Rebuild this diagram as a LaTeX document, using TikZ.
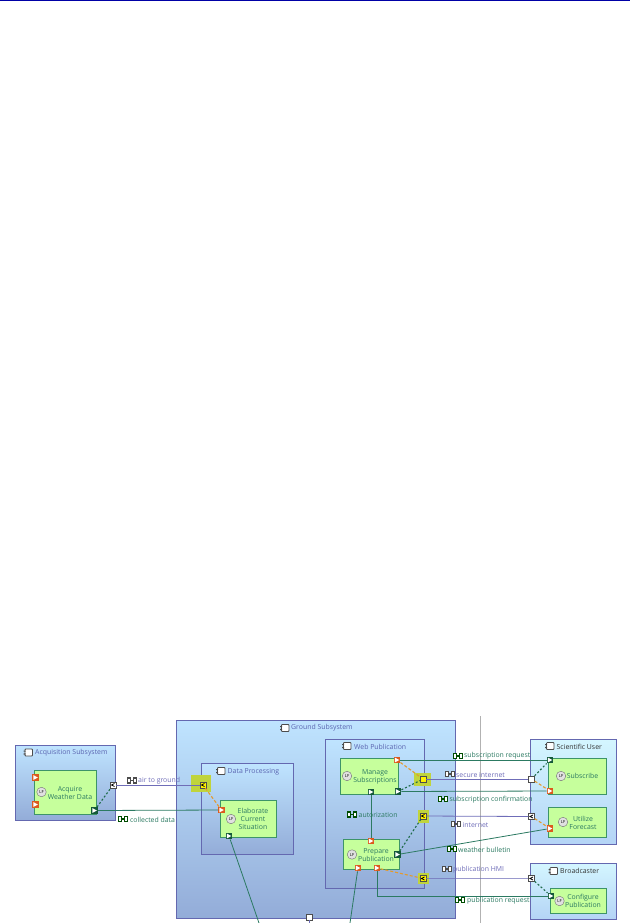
\documentclass[tikz,border=0pt]{standalone}
\usepackage{fontspec}
\setmainfont{Open Sans}
\definecolor{funcgreen}{HTML}{3D9468}
\definecolor{exgreen}{HTML}{2C7A62}
\definecolor{funcfill}{HTML}{C6FF9C}
\definecolor{linkpurple}{HTML}{6F6DB8}
\definecolor{boxedge}{HTML}{6468B0}
\definecolor{boxtop}{HTML}{BFE4FF}
\definecolor{boxbottom}{HTML}{93ACD8}
\definecolor{usertop}{HTML}{D4F6FF}
\definecolor{userbottom}{HTML}{B4D4F6}
\definecolor{titleblue}{HTML}{5A64B0}
\definecolor{dashorange}{HTML}{E39A2E}
\definecolor{dashgreen}{HTML}{1F6B4A}
\definecolor{portorange}{HTML}{DC5A1E}
\definecolor{portgreen}{HTML}{14593A}
\definecolor{hilite}{HTML}{C0D43C}
\begin{document}
\begin{tikzpicture}[
    x=1pt, y=-1pt,
    lcbox/.style={rectangle, draw=boxedge, line width=0.9pt, top color=boxtop, bottom color=boxbottom, inner sep=0pt},
    userbox/.style={rectangle, draw=boxedge, line width=0.9pt, top color=usertop, bottom color=userbottom, inner sep=0pt},
    func/.style={rectangle, draw=funcgreen, line width=0.8pt, fill=funcfill, inner sep=0pt},
    hl/.style={rectangle, fill=hilite, inner sep=0pt},
    port/.style 2 args={rectangle, fill=#1, minimum size=6.5pt, inner sep=0pt,
        path picture={\fill[white, shift={(path picture bounding box.center)}, rotate=#2] (-2.2,-2.4) -- (2.4,0) -- (-2.2,2.4) -- cycle;}},
    oport/.style={port={portorange}{#1}},
    gport/.style={port={portgreen}{#1}},
    wport/.style={rectangle, draw=black!70, fill=white, minimum size=6pt, inner sep=0pt},
    xport/.style={wport, fill=#1, path picture={\draw[black, line width=0.7pt, shift={(path picture bounding box.center)}] (1.5,-1.5) -- (-1.5,0) -- (1.5,1.5);}},
    ftext/.style={align=center, text=exgreen, font=\fontsize{6.9}{8}\selectfont, inner sep=0pt},
    title/.style={anchor=west, text=titleblue, font=\fontsize{6.9}{8}\selectfont, inner sep=0pt},
    exlabel/.style={anchor=west, text=exgreen, font=\fontsize{6.9}{8}\selectfont, inner sep=0pt},
    linklabel/.style={anchor=west, text=linkpurple, font=\fontsize{6.9}{8}\selectfont, inner sep=0pt},
    lficon/.style={circle, draw=black!55, fill=black!12, minimum size=9.5pt, inner sep=0pt, font=\fontsize{4.2}{5}\selectfont},
    exline/.style={exgreen, line width=0.8pt},
    linkline/.style={linkpurple, line width=0.8pt},
    exdash/.style={dashgreen, line width=1.1pt, dash pattern=on 2pt off 2pt},
    ordash/.style={dashorange, line width=1.1pt, dash pattern=on 3pt off 2pt},
    compicon/.pic={
        \draw[black!70, fill=white, rounded corners=0.8pt, line width=0.8pt] (-3.5,-3.5) rectangle (4,3.5);
        \fill[black!70] (-5,-2) rectangle (-3,-0.8) (-5,0.8) rectangle (-3,2);
    },
    bowtie/.pic={
        \draw[#1, fill=white, line width=1.1pt] (-4.5,-2.5) rectangle (-1.5,2.5) (1.5,-2.5) rectangle (4.5,2.5);
        \draw[#1, line width=1.1pt] (-1.5,0) -- (1.5,0);
    }
]
\useasboundingbox (0,0) rectangle (630,923);

% Top rule
\coordinate (ruleL) at (0,0.7);
\coordinate (ruleR) at (630,0.7);
\draw[blue!65!black, line width=1.4pt] (ruleL) -- (ruleR);

% Containers
\node[lcbox, minimum width=100pt, minimum height=75pt] (acq) at (65,782.5) {};
\node[lcbox, minimum width=279pt, minimum height=198pt] (ground) at (316,819) {};
\node[lcbox, minimum width=92pt, minimum height=91pt] (dproc) at (247.5,809) {};
\node[lcbox, minimum width=99pt, minimum height=149pt] (web) at (375,813.5) {};
\node[userbox, minimum width=86pt, minimum height=105pt] (sci) at (573,791.5) {};
\node[userbox, minimum width=86pt, minimum height=56pt] (brd) at (573,891) {};

% Separator
\coordinate (sepT) at (480.5,716);
\coordinate (sepB) at (480.5,923);
\draw[black!30, line width=0.9pt] (sepT) -- (sepB);

% Functions
\node[func, minimum width=62pt, minimum height=44pt] (acquire) at (65,792) {};
\node[func, minimum width=56pt, minimum height=37pt] (elab) at (248,819) {};
\node[func, minimum width=58pt, minimum height=36pt] (manage) at (369.5,776) {};
\node[func, minimum width=56pt, minimum height=30pt] (prepare) at (371,854.5) {};
\node[func, minimum width=58pt, minimum height=36pt] (subscribe) at (577,776) {};
\node[func, minimum width=58pt, minimum height=30pt] (utilize) at (577,822) {};
\node[func, minimum width=56pt, minimum height=25pt] (configure) at (578,900.5) {};

% Highlights
\node[hl, minimum width=20pt, minimum height=17pt] (hlA) at (201,783.5) {};
\node[hl, minimum width=17pt, minimum height=13pt] (hlB) at (422.5,779) {};
\node[hl, minimum width=11pt, minimum height=13pt] (hlC) at (423,816) {};
\node[hl, minimum width=11pt, minimum height=11pt] (hlD) at (423,878.5) {};

% Free ends at the page edge
\coordinate (elabEnd) at (259,923);
\coordinate (prepEnd) at (350,923);
\coordinate (groundEnd) at (309.5,923);

% Ports
\node[oport=0] (acqIn1) at (35.5,777.5) {};
\node[oport=0] (acqIn2) at (35.5,804.5) {};
\node[gport=0] (acqOut) at (94.5,810.5) {};
\node[xport=white] (acqPhy) at (113,785) {};
\node[xport=yellow] (dpPhy) at (203,785) {};
\node[oport=0] (elabIn) at (221.5,810) {};
\node[gport=270] (elabOut) at (229,836) {};
\node[oport=180] (manIn) at (397,760) {};
\node[gport=0] (manOut) at (398,791.5) {};
\node[gport=270] (manAuth) at (371,792) {};
\node[oport=270] (prepAuth) at (371,841) {};
\node[gport=0] (prepOut) at (397.5,854.5) {};
\node[oport=90] (prepIn1) at (358,868) {};
\node[oport=90] (prepIn2) at (377,868) {};
\node[wport, fill=yellow] (webPhyA) at (423,779) {};
\node[xport=yellow] (webPhyB) at (423,816) {};
\node[xport=yellow] (webPhyC) at (423,878.5) {};
\node[gport=180] (subOut) at (550,760) {};
\node[oport=0] (subIn) at (550,791) {};
\node[wport] (sciPhyA) at (531.5,779) {};
\node[xport=white] (sciPhyB) at (531.5,816.5) {};
\node[oport=0] (utilIn) at (550,828.5) {};
\node[xport=white] (brdPhy) at (531.5,878.5) {};
\node[gport=180] (confOut) at (551,896) {};
\node[wport] (groundPhy) at (309.5,917) {};

% Functional exchanges
\draw[exline] (acqOut) -- (elabIn);
\draw[exline] (elabOut) -- (elabEnd);
\draw[exline] (prepIn1) -- (prepEnd);
\draw[exline] (subOut) -- (manIn);
\draw[exline] (manOut) -- (subIn);
\draw[exline] (manAuth) -- (prepAuth);
\draw[exline] (prepOut) -- (utilIn);
\draw[exline] (prepIn2) |- (confOut);

% Physical links
\draw[linkline] (acqPhy) -- (dpPhy);
\draw[linkline] (webPhyA) -- (sciPhyA);
\draw[linkline] (webPhyB) -- (sciPhyB);
\draw[linkline, opacity=0.7] (webPhyC) -- (brdPhy);
\draw[linkline] (groundPhy) -- (groundEnd);

% Allocation links
\draw[exdash] (acqOut) -- (acqPhy);
\draw[exdash] (manOut) -- (webPhyA);
\draw[exdash] (prepOut) -- (webPhyB);
\draw[exdash] (sciPhyA) -- (subOut);
\draw[exdash] (brdPhy) -- (confOut);
\draw[ordash] (dpPhy) -- (elabIn);
\draw[ordash] (manIn) -- (webPhyA);
\draw[ordash] (prepIn2) -- (webPhyC);
\draw[ordash] (sciPhyA) -- (subIn);
\draw[ordash] (sciPhyB) -- (utilIn);

% Container titles
\pic at (28.5,752.5) {compicon};
\node[title] (acqTitle) at (35,753) {Acquisition Subsystem};
\pic at (285,728) {compicon};
\node[title] (groundTitle) at (291,728) {Ground Subsystem};
\pic at (221,771) {compicon};
\node[title] (dprocTitle) at (227.5,771.5) {Data Processing};
\pic at (347,746) {compicon};
\node[title] (webTitle) at (354,746.5) {Web Publication};
\pic at (550,746) {compicon};
\node[title, text=black!80] (sciTitle) at (556.5,746.5) {Scientific User};
\pic at (553.5,871) {compicon};
\node[title, text=black!80] (brdTitle) at (560,871) {Broadcaster};

% Function texts
\node[lficon] (acquireIcon) at (41.5,792) {LF};
\node[ftext] (acquireText) at (70,792.5) {Acquire\\Weather Data};
\node[lficon] (elabIcon) at (231,819) {LF};
\node[ftext] (elabText) at (253,819) {Elaborate\\Current\\Situation};
\node[lficon] (manageIcon) at (347,776) {LF};
\node[ftext] (manageText) at (375,776.5) {Manage\\Subscriptions};
\node[lficon] (prepareIcon) at (352,854.5) {LF};
\node[ftext] (prepareText) at (376,855) {Prepare\\Publication};
\node[lficon] (subscribeIcon) at (561,776) {LF};
\node[ftext] (subscribeText) at (582.5,776) {Subscribe};
\node[lficon] (utilizeIcon) at (563,822) {LF};
\node[ftext] (utilizeText) at (583,823) {Utilize\\Forecast};
\node[lficon] (configureIcon) at (559.5,901) {LF};
\node[ftext] (configureText) at (583,901) {Configure\\Publication};

% Exchange labels
\pic at (132,780.5) {bowtie=black!70};
\node[linklabel] (airLabel) at (138,781) {air to ground};
\pic at (123,819) {bowtie=green!30!black};
\node[exlabel] (collectedLabel) at (130,819.5) {collected data};
\pic at (457.7,756) {bowtie=green!30!black};
\node[exlabel] (subReqLabel) at (464,756) {subscription request};
\pic at (450,774) {bowtie=black!70};
\node[linklabel] (secureLabel) at (456,774.5) {secure internet};
\pic at (443,799) {bowtie=green!30!black};
\node[exlabel] (subConfLabel) at (449.5,799.5) {subscription confirmation};
\pic at (352,814.5) {bowtie=green!30!black};
\node[exlabel] (authLabel) at (358.5,815) {autorization};
\pic at (456,824) {bowtie=black!70};
\node[linklabel] (internetLabel) at (462.5,824.5) {internet};
\pic at (451.7,849) {bowtie=green!30!black};
\node[exlabel] (weatherLabel) at (458,849.5) {weather bulletin};
\pic at (446.7,869) {bowtie=black!70};
\node[linklabel] (hmiLabel) at (453,869.5) {publication HMI};
\pic at (460,900) {bowtie=green!30!black};
\node[exlabel] (pubReqLabel) at (467,900.5) {publication request};

\end{tikzpicture}
\end{document}
